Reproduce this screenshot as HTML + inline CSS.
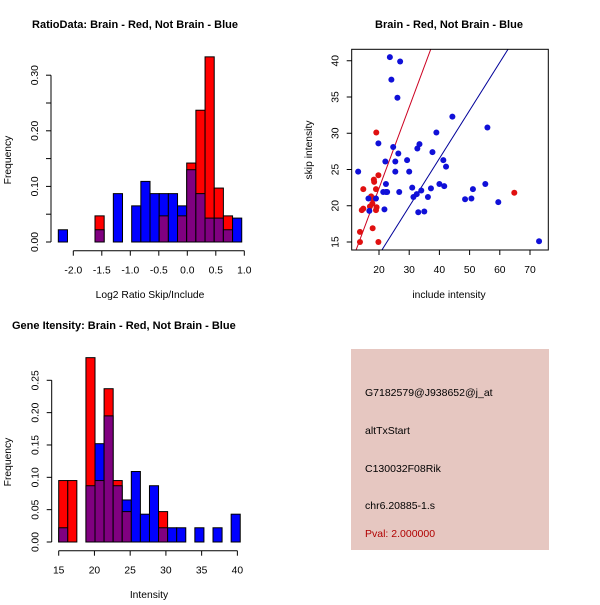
<!DOCTYPE html>
<html><head><meta charset="utf-8"><style>
body{margin:0;background:#fff}
svg{font-family:"Liberation Sans",sans-serif}
</style></head><body>
<svg id="s" width="600" height="600" viewBox="0 0 600 600">
<rect width="600" height="600" fill="#fff"/>
<g id="p1"></g>
<g id="p2"></g>
<g id="p3"></g>
<g>
<rect x="351" y="349" width="198" height="201" fill="#e6c7c1"/>
<text x="365" y="396" font-size="10.5">G7182579@J938652@j_at</text>
<text x="365" y="434" font-size="10.5">altTxStart</text>
<text x="365" y="472" font-size="10.5">C130032F08Rik</text>
<text x="365" y="509" font-size="10.5">chr6.20885-1.s</text>
<text x="365" y="537" font-size="10.5" fill="#b00000">Pval: 2.000000</text>
</g>
</svg>
<script>
// ---- Ratio histogram data
const ratioStart = -2.263, ratioBinW = 0.1609;
const ratioRed  = [0,0,0,0,0.047,0,0,0,0,0,0,0.047,0,0.047,0.142,0.237,0.333,0.097,0.047,0];
const ratioBlue = [0.022,0,0,0,0.022,0,0.087,0,0.065,0.109,0.087,0.087,0.087,0.065,0.13,0.087,0.043,0.043,0.022,0.043];
const ratioXTicks = [-2.0,-1.5,-1.0,-0.5,0.0,0.5,1.0];
const ratioYTicks = [0,0.05,0.10,0.15,0.20,0.25,0.30];
const ratioYLabels = ["0.00","","0.10","","0.20","","0.30"];
// ---- Intensity histogram data
const intStart = 15.0, intBinW = 1.27;
const intRed  = [0.095,0.095,0,0.285,0.095,0.237,0.095,0.047,0,0,0,0.047,0,0,0,0,0,0,0,0];
const intBlue = [0.022,0,0,0.087,0.152,0.195,0.087,0.065,0.109,0.043,0.087,0.022,0.022,0.022,0,0.022,0,0.022,0,0.043];
const intXTicks = [15,20,25,30,35,40];
const intYTicks = [0,0.05,0.10,0.15,0.20,0.25];
const intYLabels = ["0.00","0.05","0.10","0.15","0.20","0.25"];
// ---- Scatter data
const redX = [19.1,19.8,18.3,18.4,14.8,19.0,17.4,17.9,17.8,14.3,14.8,19.0,17.0,19.2,17.9,13.7,13.7,19.8,64.8,18.8];
const redY = [30.1,24.2,23.6,23.3,22.3,22.3,21.3,21.0,20.3,19.4,19.6,19.4,19.9,19.8,16.9,16.4,15.0,15.0,21.8,21.0];
const blueX = [23.6,27.0,24.1,26.1,44.3,55.9,39.0,19.8,24.7,33.4,32.7,26.4,29.3,37.7,41.3,42.2,22.1,25.4,13.1,25.4,30.0,22.3,40.0,41.6,55.2,31.0,34.0,37.2,21.4,22.3,22.7,26.7,32.5,31.4,36.2,48.5,50.6,51.1,59.5,16.5,19.0,16.8,21.8,33.0,35.0,73.0];
const blueY = [40.5,39.9,37.4,34.9,32.3,30.8,30.1,28.6,28.1,28.5,27.9,27.2,26.3,27.4,26.3,25.4,26.1,26.1,24.7,24.7,24.7,23.0,23.0,22.7,23.0,22.5,22.1,22.4,21.9,21.9,21.9,21.9,21.6,21.2,21.2,20.9,21.0,22.3,20.5,21.0,21.0,19.3,19.5,19.1,19.2,15.1];
const redSlope = 1.12, blueSlope = 0.663;
const scXTicks = [20,30,40,50,60,70];
const scYTicks = [15,20,25,30,35,40];

const NS="http://www.w3.org/2000/svg";
const FS=10.3;
function mk(parent,tag,attrs,txt){const e=document.createElementNS(NS,tag);for(const k in attrs)e.setAttribute(k,attrs[k]);if(txt!==undefined)e.textContent=txt;parent.appendChild(e);return e;}

function hist(g,cfg){
  const sx=v=>cfg.x0px+(v-cfg.x0)*cfg.kx, sy=v=>cfg.y0px-v*cfg.ky;
  for(let i=0;i<cfg.red.length;i++){
    const l=sx(cfg.start+i*cfg.w), r=sx(cfg.start+(i+1)*cfg.w);
    const rv=cfg.red[i], bv=cfg.blue[i];
    const hi=Math.max(rv,bv), lo=Math.min(rv,bv);
    if(hi>0){
      const b=mk(g,'rect',{x:l,y:sy(hi),width:r-l,height:sy(0)-sy(hi),fill:rv>bv?'#ff0000':'#0000ff',stroke:'#000','stroke-width':1});
      
      
    }
    if(lo>0){
      const p=mk(g,'rect',{x:l,y:sy(lo),width:r-l,height:sy(0)-sy(lo),fill:'#800080',stroke:'#000','stroke-width':1});
      
      
    }
  }
  const ya=cfg.yticks;
  const ax=mk(g,'line',{x1:cfg.yaxX,x2:cfg.yaxX,y1:sy(ya[0]),y2:sy(ya[ya.length-1]),stroke:'#000'});
  
  ya.forEach((t,i)=>{
    mk(g,'line',{x1:cfg.yaxX-5,x2:cfg.yaxX,y1:sy(t),y2:sy(t),stroke:'#000'});
    if(cfg.ylabels[i]){const y=sy(t);const tx=mk(g,'text',{x:cfg.yaxX-13,y:y,'font-size':FS,'text-anchor':'middle',transform:`rotate(-90 ${cfg.yaxX-13} ${y})`},cfg.ylabels[i]);
      }
  });
  const xa=cfg.xticks;
  const bx=mk(g,'line',{x1:sx(xa[0]),x2:sx(xa[xa.length-1]),y1:cfg.xaxY,y2:cfg.xaxY,stroke:'#000'});
  
  xa.forEach(t=>{
    mk(g,'line',{x1:sx(t),x2:sx(t),y1:cfg.xaxY,y2:cfg.xaxY+5,stroke:'#000'});
    const tx=mk(g,'text',{x:sx(t),y:cfg.xaxY+23,'font-size':FS,'text-anchor':'middle'},cfg.xfmt(t));
    
  });
}

const g1=document.getElementById('p1');
hist(g1,{start:ratioStart,w:ratioBinW,red:ratioRed,blue:ratioBlue,x0:-2,x0px:73.3,kx:57,y0px:242,ky:556,
  yaxX:51,xaxY:250.7,xticks:ratioXTicks,yticks:ratioYTicks,ylabels:ratioYLabels,xfmt:t=>t.toFixed(1)});
let t;
t=mk(g1,'text',{x:135,y:28,'font-size':11,'font-weight':'bold','text-anchor':'middle'},'RatioData: Brain - Red, Not Brain - Blue');

t=mk(g1,'text',{x:150,y:298,'font-size':FS,'text-anchor':'middle'},'Log2 Ratio Skip/Include');

t=mk(g1,'text',{x:11,y:160,'font-size':FS,'text-anchor':'middle',transform:'rotate(-90 11 160)'},'Frequency');


const g3=document.getElementById('p3');
hist(g3,{start:intStart,w:intBinW,red:intRed,blue:intBlue,x0:15,x0px:58.7,kx:7.147,y0px:542,ky:646.8,
  yaxX:51.7,xaxY:550.7,xticks:intXTicks,yticks:intYTicks,ylabels:intYLabels,xfmt:t=>String(t)});
t=mk(g3,'text',{x:12,y:329,'font-size':11,'font-weight':'bold'},'Gene Itensity: Brain - Red, Not Brain - Blue');

t=mk(g3,'text',{x:149,y:598,'font-size':FS,'text-anchor':'middle'},'Intensity');

t=mk(g3,'text',{x:11,y:462,'font-size':FS,'text-anchor':'middle',transform:'rotate(-90 11 462)'},'Frequency');


// scatter
const g2=document.getElementById('p2');
const L=351.7,R=548.3,T=49.3,B=250;
const sx=v=>379+(v-20)*3.02, sy=v=>242-(v-15)*7.25;
const cp=mk(g2,'clipPath',{id:'clipS'});mk(cp,'rect',{x:L,y:T,width:R-L,height:B-T});
const lg=mk(g2,'g',{'clip-path':'url(#clipS)'});
[[redSlope,'#cc0020','red-fit-line'],[blueSlope,'#000099','blue-fit-line']].forEach(([s,c,n])=>{
  const ln=mk(lg,'line',{x1:sx(0),y1:sy(0),x2:sx(100),y2:sy(100*s),stroke:c,'stroke-width':1});
  
});
redX.forEach((x,i)=>{const c=mk(lg,'circle',{cx:sx(x),cy:sy(redY[i]),r:3,fill:'#e01010'});
  });
blueX.forEach((x,i)=>{const c=mk(lg,'circle',{cx:sx(x),cy:sy(blueY[i]),r:3,fill:'#1010d8'});
  });
const box=mk(g2,'rect',{x:L,y:T,width:R-L,height:B-T,fill:'none',stroke:'#000'});

scXTicks.forEach(v=>{mk(g2,'line',{x1:sx(v),x2:sx(v),y1:B,y2:B+5,stroke:'#000'});
  const tx=mk(g2,'text',{x:sx(v),y:B+23,'font-size':FS,'text-anchor':'middle'},String(v));
  });
scYTicks.forEach(v=>{mk(g2,'line',{x1:L-5,x2:L,y1:sy(v),y2:sy(v),stroke:'#000'});
  const y=sy(v);const tx=mk(g2,'text',{x:L-13,y:y,'font-size':FS,'text-anchor':'middle',transform:`rotate(-90 ${L-13} ${y})`},String(v));
  });
t=mk(g2,'text',{x:449,y:28,'font-size':11,'font-weight':'bold','text-anchor':'middle'},'Brain - Red, Not Brain - Blue');

t=mk(g2,'text',{x:449,y:298,'font-size':FS,'text-anchor':'middle'},'include intensity');

t=mk(g2,'text',{x:312,y:150,'font-size':FS,'text-anchor':'middle',transform:'rotate(-90 312 150)'},'skip intensity');

</script>
</body></html>
